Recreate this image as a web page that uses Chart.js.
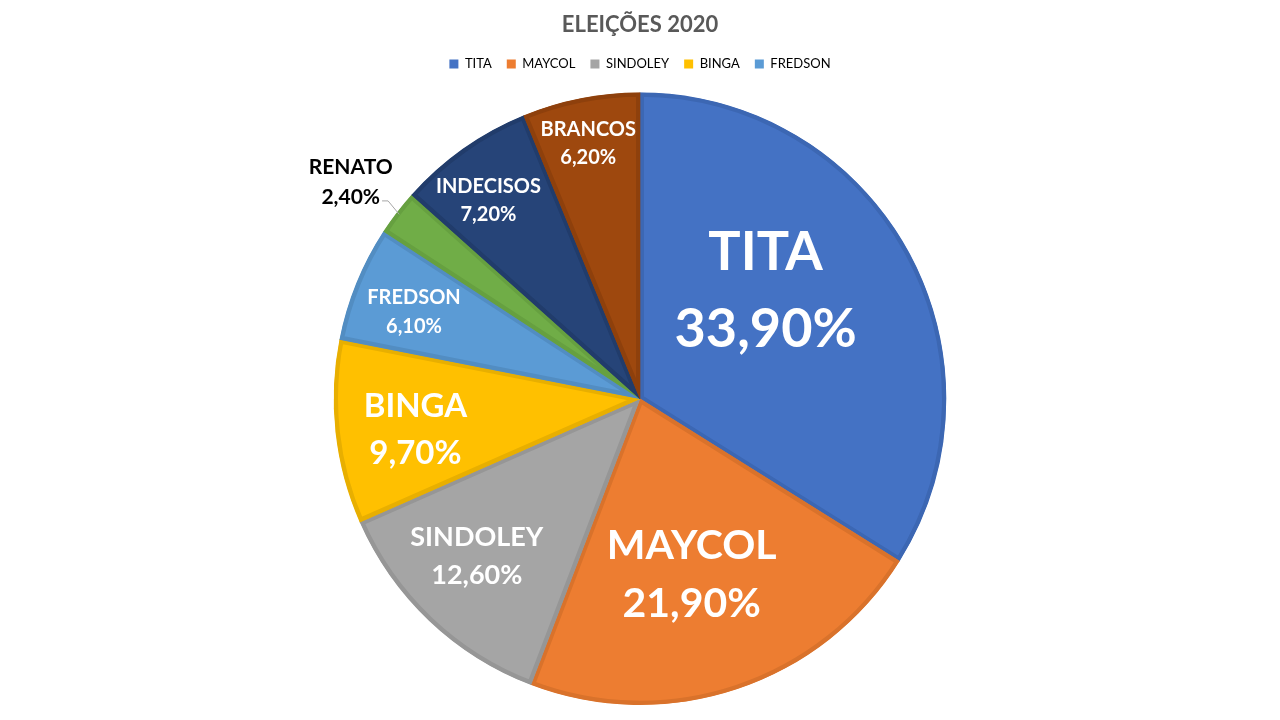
<!DOCTYPE html>
<html>
<head>
<meta charset="utf-8">
<script src="https://cdn.jsdelivr.net/npm/chart.js@4"></script>
<style>
  html, body { margin: 0; padding: 0; background: #fff; }
  #wrap { width: 1280px; height: 720px; }
</style>
</head>
<body>
<div id="wrap"><canvas id="pieChart" width="1280" height="720"></canvas></div>
<script>
const candidates = ['TITA', 'MAYCOL', 'SINDOLEY', 'BINGA', 'FREDSON', 'RENATO', 'INDECISOS', 'BRANCOS'];
const percents = [33.9, 21.9, 12.6, 9.7, 6.1, 2.4, 7.2, 6.2];
const legendCount = 5;

const fills = ['#4472C4', '#ED7D31', '#A5A5A5', '#FFC000', '#5B9BD5', '#70AD47', '#264478', '#9E480E'];
const edges = ['#3C67B3', '#D9722B', '#969696', '#E8AF00', '#528DC2', '#66A040', '#213C6B', '#8E400C'];

// label placement: radius as fraction of R, angle shift from slice middle (deg), font size
const labelRadius = [0.54, 0.60, 0.74, 0.74, 0.79, 1.18, 0.815, 0.85];
const labelShift = [-11.6, 2.2, 2.5, -1.5, -1.2, -0.6, -2.1, -0.3];
const labelSize = [54, 41, 27, 33, 20, 21, 20, 20];
const labelColor = ['#fff', '#fff', '#fff', '#fff', '#fff', '#000', '#fff', '#fff'];

const fmt = v => v.toFixed(2).replace('.', ',') + '%';

const sliceLabels = {
  id: 'sliceLabels',
  afterDatasetsDraw(chart) {
    const ctx = chart.ctx;
    const arcs = chart.getDatasetMeta(0).data;
    arcs.forEach((arc, i) => {
      const mid = (arc.startAngle + arc.endAngle) / 2 + labelShift[i] * Math.PI / 180;
      const r = arc.outerRadius * labelRadius[i];
      const x = arc.x + Math.cos(mid) * r;
      const y = arc.y + Math.sin(mid) * r;
      const fs = labelSize[i];
      ctx.save();
      ctx.fillStyle = labelColor[i];
      ctx.font = `bold ${fs}px Lato, "Open Sans", sans-serif`;
      ctx.textAlign = 'center';
      ctx.textBaseline = 'middle';
      const gap = fs * 0.71;
      ctx.fillText(candidates[i], x, y - gap);
      ctx.fillText(fmt(percents[i]), x, y + gap);
      if (labelRadius[i] > 1) {
        // leader line from the label to the slice edge
        const m = (arc.startAngle + arc.endAngle) / 2;
        const ex = arc.x + Math.cos(m) * arc.outerRadius * 0.99;
        const ey = arc.y + Math.sin(m) * arc.outerRadius * 0.99;
        const w = ctx.measureText(fmt(percents[i])).width;
        ctx.strokeStyle = '#A6A6A6';
        ctx.lineWidth = 1;
        ctx.beginPath();
        ctx.moveTo(x + w / 2 + 2, y + gap + 4);
        ctx.lineTo(x + w / 2 + 8, y + gap + 4);
        ctx.lineTo(ex, ey);
        ctx.stroke();
      }
      ctx.restore();
    });
  }
};

// extra room under the legend so the pie starts lower
const legendGap = {
  id: 'legendGap',
  beforeInit(chart) {
    const fit = chart.legend.fit;
    chart.legend.fit = function () {
      fit.bind(chart.legend)();
      this.height += 12;
    };
  }
};

new Chart(document.getElementById('pieChart'), {
  type: 'pie',
  data: {
    labels: candidates,
    datasets: [{
      data: percents,
      backgroundColor: fills,
      borderColor: edges,
      borderWidth: 4,
      borderAlign: 'inner'
    }]
  },
  options: {
    responsive: false,
    animation: false,
    layout: { padding: { top: 0, bottom: 15 } },
    plugins: {
      title: {
        display: true,
        text: 'ELEIÇÕES 2020',
        color: '#595959',
        font: { family: 'Lato, "Open Sans", sans-serif', size: 22, weight: 'bold' },
        padding: { top: 12, bottom: 4 }
      },
      legend: {
        position: 'top',
        labels: {
          color: '#595959',
          font: { family: 'Lato, "Open Sans", sans-serif', size: 13 },
          boxWidth: 9,
          boxHeight: 9,
          padding: 15,
          filter: item => item.index < legendCount,
          generateLabels: chart => chart.data.labels.map((l, i) => ({
            text: l,
            fillStyle: fills[i],
            strokeStyle: fills[i],
            lineWidth: 0,
            index: i
          }))
        }
      },
      tooltip: { enabled: false }
    }
  },
  plugins: [sliceLabels, legendGap]
});
</script>
</body>
</html>
